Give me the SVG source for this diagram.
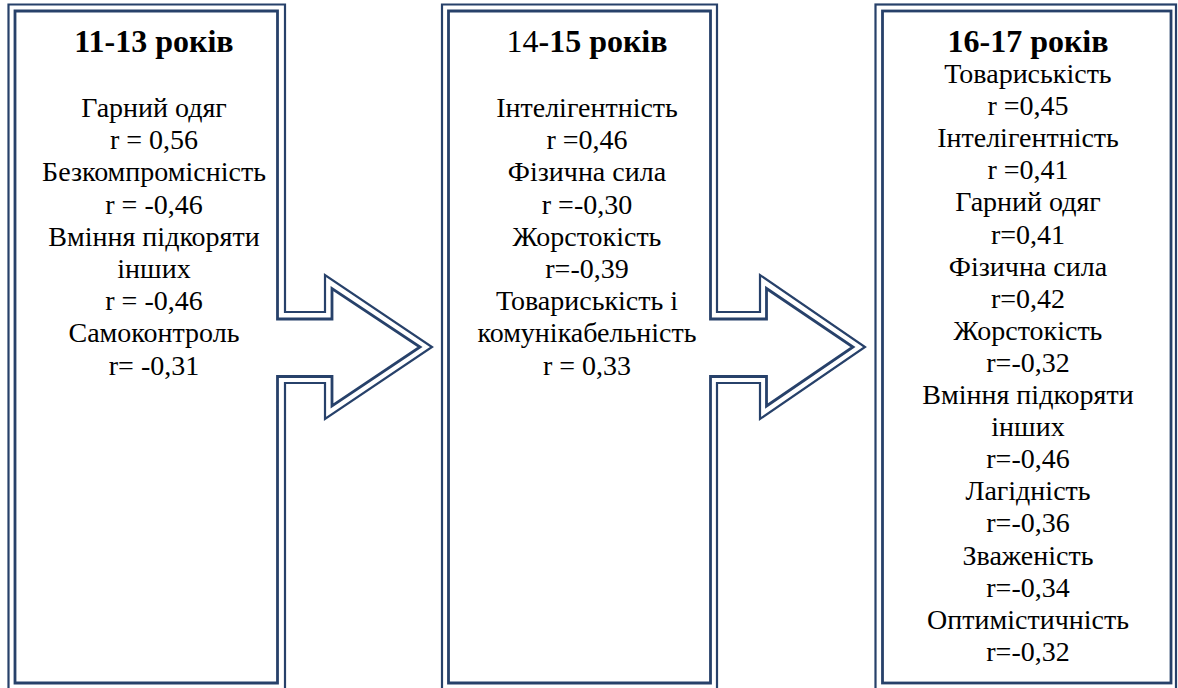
<svg xmlns="http://www.w3.org/2000/svg" width="1178" height="688" viewBox="0 0 1178 688">
  <style>
    .frame-out { fill: #ffffff; stroke: #27416a; stroke-width: 2.2; stroke-linejoin: miter; }
    .frame-in { fill: none; stroke: #27416a; stroke-width: 2.8; stroke-linejoin: miter; }
  </style>
  <rect x="0" y="0" width="1178" height="688" fill="#ffffff"/>

  <!-- 11-13 years: panel with arrow pointing right -->
  <g id="age-11-13">
    <polygon class="frame-out" points="8.5,4.5 285,4.5 285,312 325,312 325,275 432,347 325,419 325,383 285,383 285,692 8.5,692"/>
    <polygon class="frame-in" points="15,11 277.5,11 277.5,319 332,319 332,288.5 420,347 332,406 332,376.5 277.5,376.5 277.5,683 15,683"/>
    <text x="154" y="52" font-family="'Liberation Serif'" font-size="32" font-weight="bold" text-anchor="middle">11-13 років</text>
    <g font-family="'Liberation Serif'" font-size="28" text-anchor="middle">
      <text x="154" y="117">Гарний одяг</text>
      <text x="154" y="149.2">r = 0,56</text>
      <text x="154" y="181.4">Безкомпромісність</text>
      <text x="154" y="213.6">r = -0,46</text>
      <text x="154" y="245.8">Вміння підкоряти</text>
      <text x="154" y="278">інших</text>
      <text x="154" y="310.2">r = -0,46</text>
      <text x="154" y="342.4">Самоконтроль</text>
      <text x="154" y="374.6">r= -0,31</text>
    </g>
  </g>

  <!-- 14-15 years: panel with arrow pointing right -->
  <g id="age-14-15">
    <polygon class="frame-out" points="442,4.5 717,4.5 717,312 760,312 760,275 865,347 760,419 760,383 717,383 717,692 442,692"/>
    <polygon class="frame-in" points="448.5,11 710.5,11 710.5,319 766.5,319 766.5,288.5 853,347 766.5,406 766.5,376.5 710.5,376.5 710.5,683 448.5,683"/>
    <text x="587" y="52" font-family="'Liberation Serif'" font-size="32" font-weight="bold" text-anchor="middle"><tspan font-weight="normal">14</tspan>-15 років</text>
    <g font-family="'Liberation Serif'" font-size="28" text-anchor="middle">
      <text x="587" y="117">Інтелігентність</text>
      <text x="587" y="149.2">r =0,46</text>
      <text x="587" y="181.4">Фізична сила</text>
      <text x="587" y="213.6">r =-0,30</text>
      <text x="587" y="245.8">Жорстокість</text>
      <text x="587" y="278">r=-0,39</text>
      <text x="587" y="310.2">Товариськість і</text>
      <text x="587" y="342.4">комунікабельність</text>
      <text x="587" y="374.6">r = 0,33</text>
    </g>
  </g>

  <!-- 16-17 years: final panel -->
  <g id="age-16-17">
    <rect class="frame-out" x="875.5" y="4.5" width="300.5" height="688"/>
    <rect class="frame-in" x="882.5" y="11" width="288.5" height="672"/>
    <text x="1028" y="52" font-family="'Liberation Serif'" font-size="32" font-weight="bold" text-anchor="middle">16-17 років</text>
    <g font-family="'Liberation Serif'" font-size="28" text-anchor="middle">
      <text x="1028" y="83">Товариськість</text>
      <text x="1028" y="115.1">r =0,45</text>
      <text x="1028" y="147.2">Інтелігентність</text>
      <text x="1028" y="179.3">r =0,41</text>
      <text x="1028" y="211.4">Гарний одяг</text>
      <text x="1028" y="243.5">r=0,41</text>
      <text x="1028" y="275.6">Фізична сила</text>
      <text x="1028" y="307.7">r=0,42</text>
      <text x="1028" y="339.8">Жорстокість</text>
      <text x="1028" y="371.9">r=-0,32</text>
      <text x="1028" y="404">Вміння підкоряти</text>
      <text x="1028" y="436.1">інших</text>
      <text x="1028" y="468.2">r=-0,46</text>
      <text x="1028" y="500.3">Лагідність</text>
      <text x="1028" y="532.4">r=-0,36</text>
      <text x="1028" y="564.5">Зваженість</text>
      <text x="1028" y="596.6">r=-0,34</text>
      <text x="1028" y="628.7">Оптимістичність</text>
      <text x="1028" y="660.8">r=-0,32</text>
    </g>
  </g>
</svg>
